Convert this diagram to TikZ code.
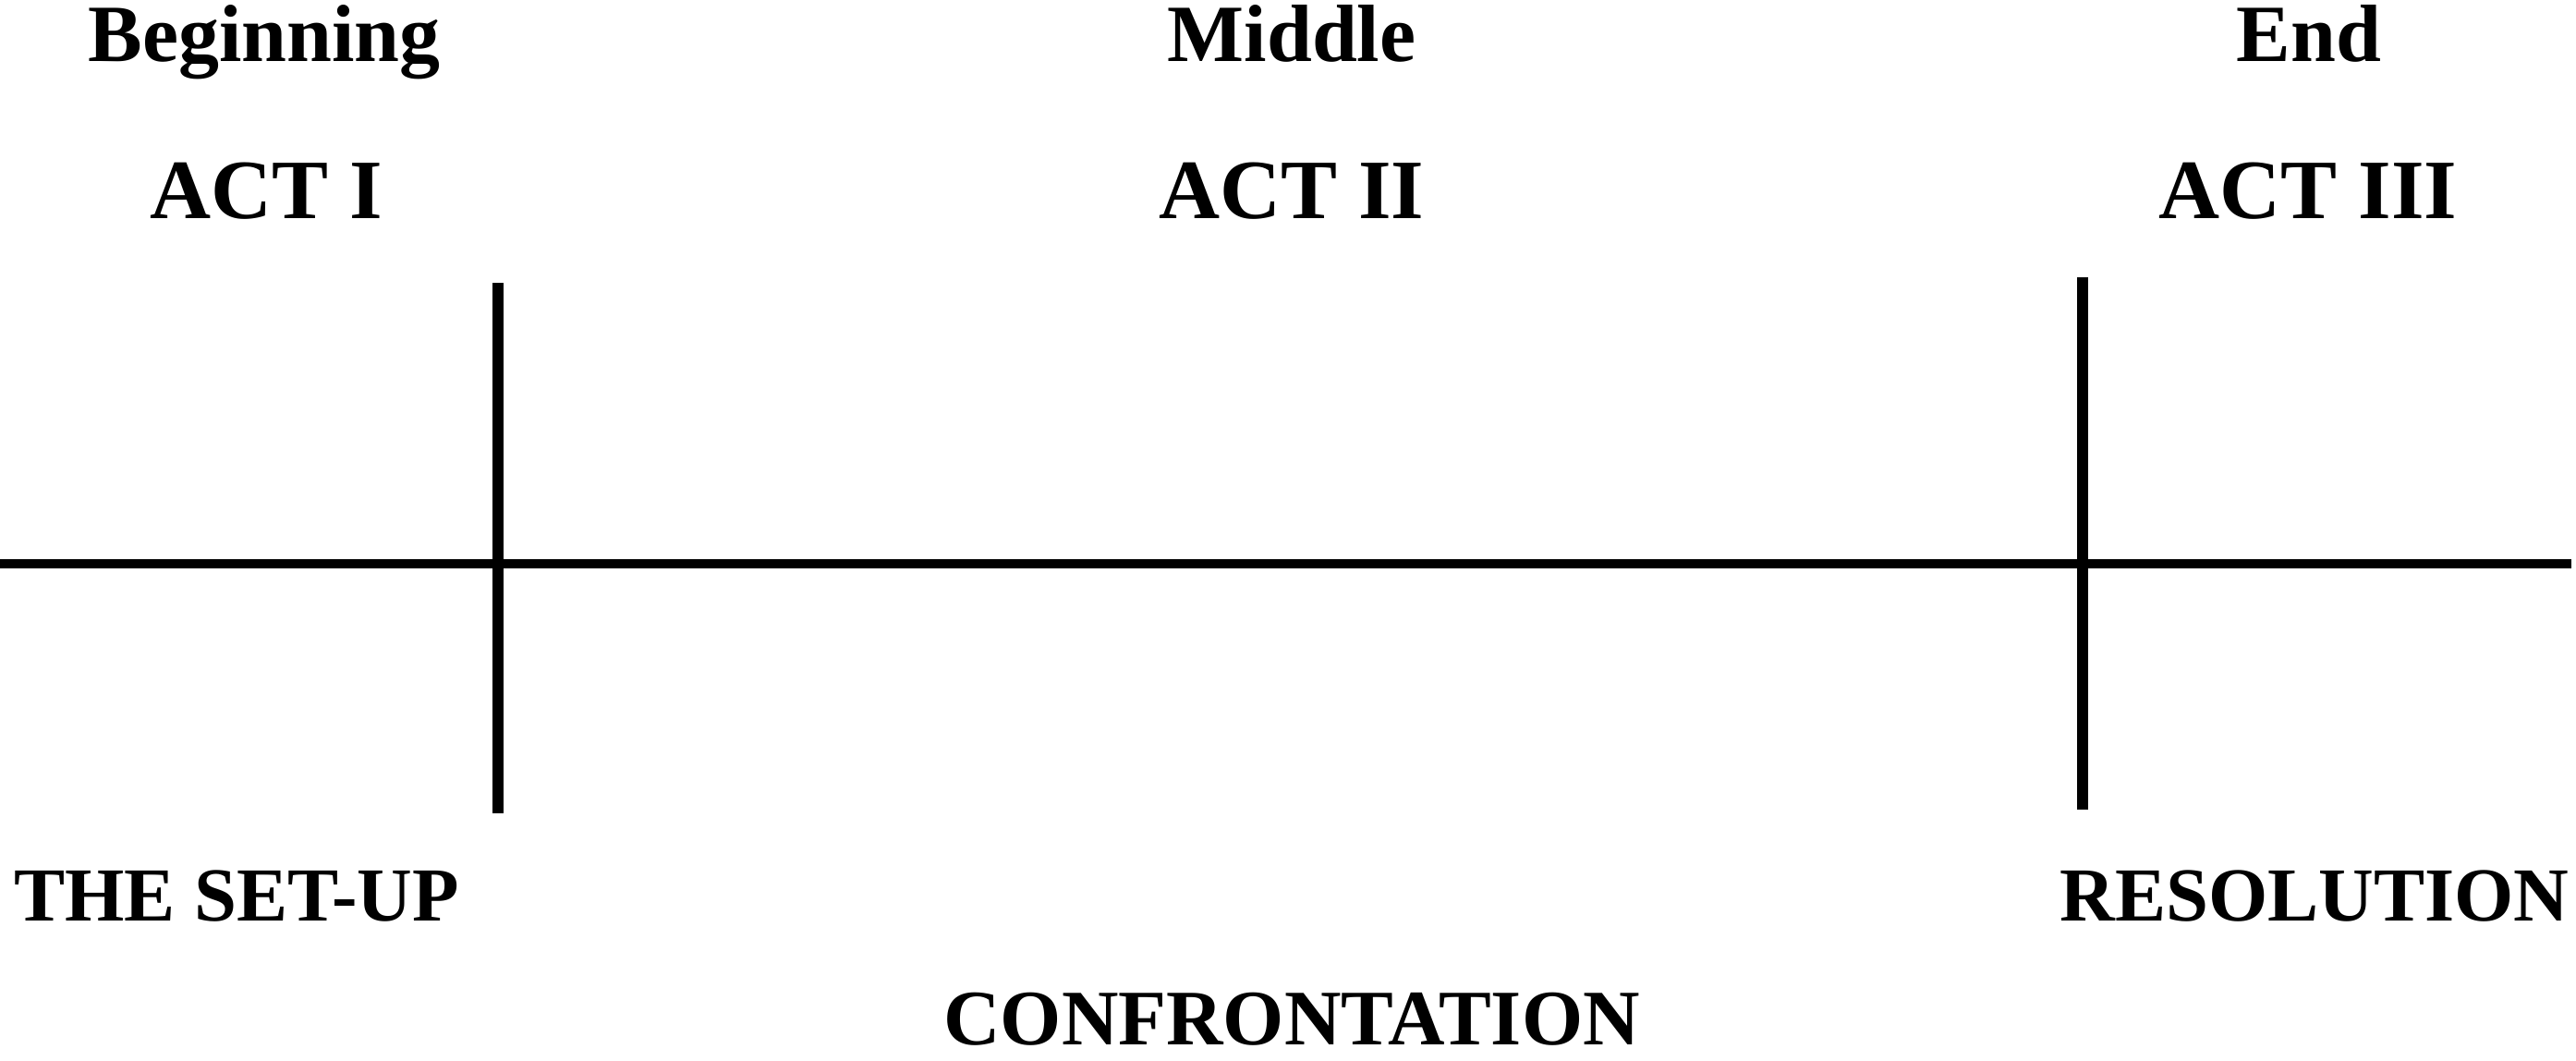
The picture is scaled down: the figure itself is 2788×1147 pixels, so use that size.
\documentclass[tikz,border=0pt]{standalone}
\usepackage{fontspec}
\setmainfont{Liberation Serif}

\tikzset{
    parttext/.style={inner sep=0pt, anchor=base, font=\fontsize{25}{30}\selectfont\bfseries},
    stagetext/.style={inner sep=0pt, anchor=base, font=\fontsize{23.5}{28}\selectfont\bfseries},
    acttext/.style={inner sep=0pt, anchor=base, font=\fontsize{26}{31}\selectfont\bfseries},
    plotpoint/.style={line width=3.3pt},
}

\begin{document}
\begin{tikzpicture}[x=0.01cm, y=-0.01cm]
    \useasboundingbox (0,0) rectangle (2788,1147);

    % Define points for the time line and the two plot points
    \coordinate (lineL) at (0,610);
    \coordinate (lineR) at (2783,610);
    \coordinate (ppOneTop) at (539,306);
    \coordinate (ppOneBot) at (539,880);
    \coordinate (ppTwoTop) at (2254,300);
    \coordinate (ppTwoBot) at (2254,876);

    % Draw the time line
    \draw[line width=2.6pt] (lineL) -- (lineR);

    % Draw the plot points
    \draw[plotpoint] (ppOneTop) -- (ppOneBot);
    \draw[plotpoint] (ppTwoTop) -- (ppTwoBot);

    % Label the three parts above the acts
    \node[parttext] (begin) at (286,66) {Beginning};
    \node[parttext] (middle) at (1398,66) {Middle};
    \node[parttext] (end) at (2499,66) {End};

    % Act titles
    \node[acttext] (actOne) at (288,236) {ACT I};
    \node[acttext] (actTwo) at (1398,236) {ACT II};
    \node[acttext] (actThree) at (2498,236) {ACT III};

    % Label what happens in each act, below the time line
    \node[stagetext] (setup) at (256,996) {THE SET-UP};
    \node[stagetext] (resolution) at (2505,996) {RESOLUTION};
    \node[stagetext, font=\fontsize{24.2}{29}\selectfont\bfseries] (confront) at (1398,1130) {CONFRONTATION};

\end{tikzpicture}
\end{document}
